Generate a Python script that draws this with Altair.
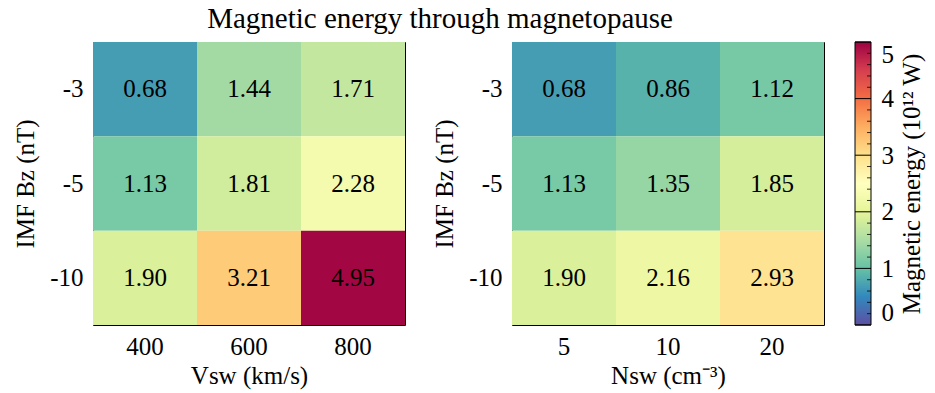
import altair as alt
import pandas as pd

# Grid categories
bz_levels = ["-3", "-5", "-10"]
vsw_levels = ["400", "600", "800"]
nsw_levels = ["5", "10", "20"]

# Magnetic energy (10^12 W), rows follow bz_levels, columns the driver levels
energy_vsw = [
    [0.68, 1.44, 1.71],
    [1.13, 1.81, 2.28],
    [1.90, 3.21, 4.95],
]
energy_nsw = [
    [0.68, 0.86, 1.12],
    [1.13, 1.35, 1.85],
    [1.90, 2.16, 2.93],
]

# Colour bar ticks
cbar_major = [0, 1, 2, 3, 4, 5]
cbar_minor = [0.2, 0.4, 0.6, 0.8, 1.2, 1.4, 1.6, 1.8, 2.2, 2.4, 2.6, 2.8,
              3.2, 3.4, 3.6, 3.8, 4.2, 4.4, 4.6, 4.8]

# Spectral colour map, reversed (low = violet, high = crimson)
spectral_r = ["#5e4fa2", "#3288bd", "#66c2a5", "#abdda4", "#e6f598", "#ffffbf",
              "#fee08b", "#fdae61", "#f46d43", "#d53e4f", "#9e0142"]
stops = [i * 0.5 for i in range(len(spectral_r))]
vmin, vmax = 0, 5

FONT = "Liberation Serif"
FS = 25
W, H = 312, 283
BAR_X0, BAR_X1 = 4, 20

color_scale = alt.Scale(domain=stops, range=spectral_r, interpolate="rgb")


def grid_frame(cols, values):
    rows = []
    for i, bz in enumerate(bz_levels):
        for j, c in enumerate(cols):
            rows.append({"bz": bz, "drv": c, "e": values[i][j]})
    return pd.DataFrame(rows)


def heatmap(cols, values, xtitle):
    df = grid_frame(cols, values)
    base = alt.Chart(df).encode(
        x=alt.X("drv:N", sort=cols, title=xtitle,
                axis=alt.Axis(labelAngle=0, ticks=False, domain=False,
                              labelPadding=9, titlePadding=4)),
        y=alt.Y("bz:N", sort=bz_levels, title="IMF Bz (nT)",
                axis=alt.Axis(ticks=False, domain=False, labelPadding=10,
                              titlePadding=11)),
    )
    cells = base.mark_rect().encode(
        color=alt.Color("e:Q", scale=color_scale, legend=None)
    )
    labels = base.mark_text(font=FONT, fontSize=FS, color="black").encode(
        text=alt.Text("e:Q", format=".2f")
    )
    return (cells + labels).properties(width=W, height=H)


left = heatmap(vsw_levels, energy_vsw, "Vsw (km/s)")
right = heatmap(nsw_levels, energy_nsw, "Nsw (cm\u207b\u00b3)")

# Colour bar: a gradient-filled rect on the value axis, with tick lines
gradient = alt.LinearGradient(
    gradient="linear", x1=0, y1=1, x2=0, y2=0,
    stops=[alt.GradientStop(offset=s / vmax, color=c) for s, c in zip(stops, spectral_r)],
)
ysc = alt.Scale(domain=[vmin, vmax], nice=False, zero=False)
cbar_axis = alt.Axis(orient="right", values=cbar_major, ticks=False, domain=False,
                     grid=False, labelPadding=10, labelFlush=True,
                     labelFont=FONT, titleFont=FONT,
                     title="Magnetic energy (10\u00b9\u00b2 W)",
                     titleAngle=270, titleBaseline="top", titlePadding=6)

bar = alt.Chart(pd.DataFrame({"lo": [vmin], "hi": [vmax]})).mark_rect(
    fill=gradient, stroke="black", strokeWidth=1
).encode(
    y=alt.Y("lo:Q", scale=ysc, axis=cbar_axis),
    y2="hi:Q",
    x=alt.value(BAR_X0), x2=alt.value(BAR_X1),
)
major = alt.Chart(pd.DataFrame({"v": cbar_major})).mark_rule(color="black", strokeWidth=1).encode(
    y=alt.Y("v:Q", scale=ysc, axis=cbar_axis), x=alt.value(BAR_X0), x2=alt.value(BAR_X1)
)
minor = alt.Chart(pd.DataFrame({"v": cbar_minor})).mark_rule(color="black", strokeWidth=0.8).encode(
    y=alt.Y("v:Q", scale=ysc, axis=cbar_axis), x=alt.value(BAR_X1 - 4), x2=alt.value(BAR_X1)
)
cbar = alt.layer(bar, major, minor).properties(
    width=BAR_X1, height=H, view=alt.ViewBackground(strokeWidth=0)
)

chart = alt.hconcat(left, right, cbar, spacing=26).properties(
    title=alt.TitleParams("Magnetic energy through magnetopause", anchor="start",
                          fontSize=29, font=FONT, fontWeight="normal",
                          color="black", offset=8, dx=194),
    padding={"left": 13, "top": 4, "right": 2, "bottom": 4},
).configure(font=FONT).configure_view(
    stroke="black", strokeWidth=1
).configure_axis(
    labelFont=FONT, titleFont=FONT, labelFontSize=FS, titleFontSize=FS,
    labelColor="black", titleColor="black", titleFontWeight="normal", grid=False
)

chart.save("out.html", embed_options={"renderer": "svg", "actions": False})
